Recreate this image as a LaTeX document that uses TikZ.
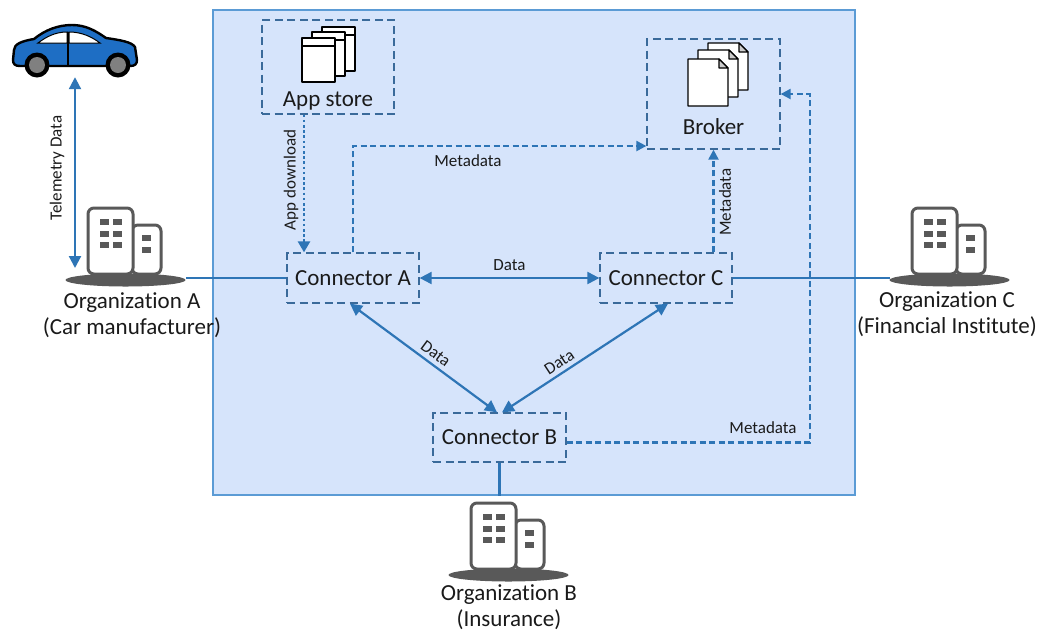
\documentclass[tikz,border=0pt]{standalone}
\usepackage{fontspec}
\setmainfont{Carlito}[Ligatures=NoCommon]
\usetikzlibrary{arrows.meta,calc}

\definecolor{arrowblue}{HTML}{2E75B6}
\definecolor{boxdash}{HTML}{3A6A9A}
\definecolor{sysfill}{HTML}{D6E4FB}
\definecolor{sysborder}{HTML}{5B9BD5}
\definecolor{bgray}{HTML}{595959}
\definecolor{carblue}{HTML}{1E6EC4}
\definecolor{txt}{HTML}{1A1A1A}

\tikzset{
  bigtext/.style={font=\fontsize{23}{26}\selectfont, text=txt},
  smalltext/.style={font=\fontsize{17}{19}\selectfont, text=txt, inner sep=1pt},
  container/.style={draw=sysborder, fill=sysfill, line width=1.6pt, inner sep=0},
  dbox/.style={draw=boxdash, line width=1.3pt, dash pattern=on 8pt off 4.5pt, inner sep=0},
  conbox/.style={dbox, bigtext, minimum width=132pt, minimum height=50pt},
  dataline/.style={draw=arrowblue, line width=2.2pt},
  datatwo/.style={dataline, {Triangle[length=12pt,width=12pt]}-{Triangle[length=12pt,width=12pt]}},
  metaline/.style={draw=arrowblue, line width=2.2pt, dash pattern=on 6pt off 3.5pt,
    -{Triangle[length=10pt,width=10pt]}},
  dlline/.style={draw=arrowblue, line width=2.6pt, dash pattern=on 2.6pt off 2.6pt,
    -{Triangle[length=11pt,width=12pt]}},
  page/.style={draw=black, line width=1.2pt, fill=white, line join=round},
  bldg/.pic={
    % smaller tower behind, main tower in front
    \draw[bgray, line width=3pt, rounded corners=6pt, fill=white] (44,17) rectangle (73,66);
    \draw[bgray, line width=3pt, rounded corners=6pt, fill=white] (0,0) rectangle (45,66);
    \foreach \wy in {11,23,34}{
      \fill[bgray] (12,\wy) rectangle (21,\wy+6);
      \fill[bgray] (25,\wy) rectangle (34,\wy+6);
    }
    \foreach \wy in {27,39}{
      \fill[bgray] (54,\wy) rectangle (63,\wy+6);
    }
    \fill[bgray] (37.5,72) ellipse [x radius=60, y radius=6.5];
    \coordinate (-L) at (-22.5,72);
    \coordinate (-R) at (97.5,72);
    \coordinate (-T) at (37.5,0);
  }
}

\begin{document}
\begin{tikzpicture}[x=1pt,y=-1pt]
\useasboundingbox (0,0) rectangle (1037,633);
\fill[white] (0,0) rectangle (1037,633);

% system boundary
\node[container, minimum width=642pt, minimum height=485pt] (sys) at (534,252.5) {};

% app store and broker
\node[dbox, minimum width=132pt, minimum height=94pt] (AS) at (328,67) {};
\node[bigtext] (AStxt) at (328,101) {App store};
\node[dbox, minimum width=133pt, minimum height=110pt] (Br) at (713.5,94) {};
\node[bigtext] (Brtxt) at (713.5,127) {Broker};

% app store pages
\foreach \dx/\dy in {20/-11, 10/-6, 0/0}{
  \draw[page] (302+\dx,38+\dy) rectangle (335+\dx,82+\dy);
  \draw[black, line width=1.2pt] (302+\dx,46+\dy) -- (335+\dx,46+\dy);
}
% broker documents with folded corner
\foreach \dx/\dy in {20/-16, 10/-9, 0/0}{
  \draw[page] (688+\dx,59+\dy) -- (719+\dx,59+\dy) -- (728+\dx,68+\dy) -- (728+\dx,106+\dy)
    -- (688+\dx,106+\dy) -- cycle;
  \draw[page, fill=black!20] (719+\dx,59+\dy) -- (719+\dx,68+\dy) -- (728+\dx,68+\dy) -- cycle;
}

% connectors
\node[conbox] (A) at (353,278) {Connector A};
\node[conbox] (C) at (666,278) {Connector C};
\node[conbox, minimum width=133pt, minimum height=49pt] (B) at (499.5,437.5) {Connector B};

% data exchange
\draw[datatwo] (A.east) -- (C.west) node[midway, above=5pt, smalltext] (d1) {Data};
\draw[datatwo] ([xshift=-3pt]A.south) -- ([xshift=-2.5pt]B.north)
  node[pos=0.54, sloped, above=3pt, smalltext] (d2) {Data};
\draw[datatwo] ([xshift=2pt]C.south) -- ([xshift=2.5pt]B.north)
  node[pos=0.62, sloped, above=3pt, smalltext] (d3) {Data};

% app download
\draw[dlline] ([xshift=-49pt]A.north |- AS.south) -- ([xshift=-49pt]A.north);
\node[smalltext, rotate=90] (dl) at (291,180) {App download};

% metadata to broker
\draw[metaline] (A.north) |- ([yshift=-52pt]Br.west);
\node[smalltext] (m1) at (468,161) {Metadata};
\draw[metaline] (Br.south |- C.north) -- (Br.south);
\node[smalltext, rotate=90] (m2) at (725,202) {Metadata};
\draw[metaline] ([yshift=-5pt]B.east) -- ++(243,0) |- (Br.east);
\node[smalltext] (m3) at (763,428) {Metadata};

% organizations
\pic (bA) at (88,208) {bldg};
\pic (bC) at (912,208) {bldg};
\pic (bB) at (471,503) {bldg};
\draw[dataline] (A.west) -- (A.west -| bA-R);
\draw[dataline] (C.east) -- (C.east -| bC-L);
\draw[dataline] (B.south) -- (B.south |- sys.south);

\node[bigtext, align=center] (oA) at (132,315) {Organization A\\(Car manufacturer)};
\node[bigtext, align=center] (oC) at (947,314) {Organization C\\(Financial Institute)};
\node[bigtext, align=center] (oB) at (509,607) {Organization B\\(Insurance)};

% car
\node[minimum width=126pt, minimum height=62pt, inner sep=0] (car) at (75,46) {};
\draw[line width=2.4pt, fill=carblue, line join=round]
  (14,50) .. controls (14,44) and (22,41) .. (34,39)
  .. controls (45,30) and (58,25) .. (72,25)
  .. controls (86,25) and (96,31) .. (106,38)
  .. controls (120,40) and (132,42) .. (135,47)
  -- (137,60) .. controls (137,64) and (135,66) .. (130,66)
  -- (20,66) .. controls (15,66) and (13,64) .. (13,60) -- cycle;
\draw[line width=1pt, fill=white] (38,43) .. controls (46,37) and (55,32) .. (67,32) -- (67,43) -- cycle;
\draw[line width=1pt, fill=white] (69,32) .. controls (82,32) and (92,37) .. (100,43) -- (69,43) -- cycle;
\draw[line width=1.2pt] (68,32) -- (68,66);
\foreach \cx in {37,118}{
  \fill[black] (\cx,65) circle (12.5);
  \fill[gray] (\cx,65) circle (8);
}
\coordinate (telA) at (75,268);
\draw[datatwo] (car.south) -- (telA);
\node[smalltext, rotate=90] (tel) at (57,168) {Telemetry Data};
\end{tikzpicture}
\end{document}
